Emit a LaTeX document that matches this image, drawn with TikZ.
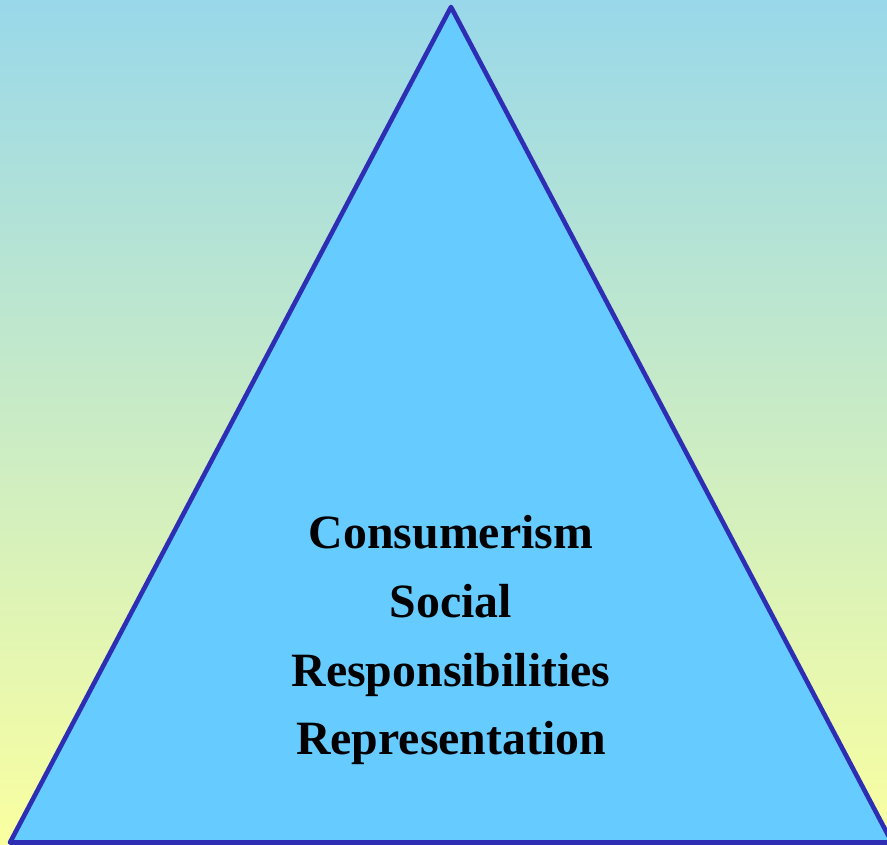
\documentclass[tikz,border=0pt]{standalone}
\usepackage{fontspec}
\setmainfont{Liberation Serif}
\definecolor{skytop}{RGB}{153,216,234}
\definecolor{sandbottom}{RGB}{250,255,160}
\definecolor{pyramidfill}{RGB}{102,204,255}
\definecolor{pyramidline}{RGB}{46,46,180}
\begin{document}
\begin{tikzpicture}[x=0.025cm, y=0.025cm,
    pyramidtext/.style={anchor=base, font=\fontsize{34}{40}\selectfont\bfseries}]
   \useasboundingbox (0, 0) rectangle (887, 845);
   \shade[top color=skytop, bottom color=sandbottom] (0, 0) rectangle (887, 845);
   \coordinate (apex) at (451, 838);
   \coordinate (left) at (10, 2.5);
   \coordinate (right) at (892, 2.5);
   \filldraw[fill=pyramidfill, draw=pyramidline, line width=4.6*0.025cm, line join=round]
     (apex) -- (left) -- (right) -- cycle;
   \node[pyramidtext] (consumerism) at (451, 296) {Consumerism};
   \node[pyramidtext] (social) at (451, 227) {Social};
   \node[pyramidtext] (responsibilities) at (451, 158) {Responsibilities};
   \node[pyramidtext] (representation) at (451, 90) {Representation};
\end{tikzpicture}
\end{document}
